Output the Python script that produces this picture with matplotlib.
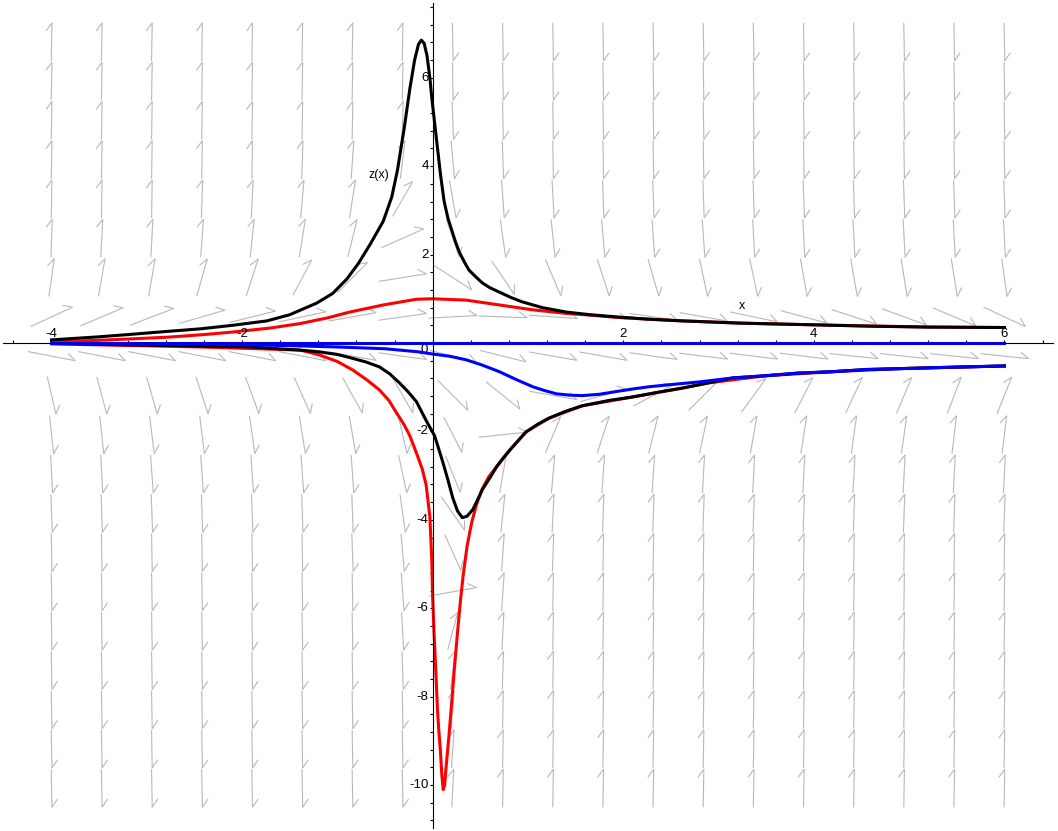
import numpy as np
import matplotlib
matplotlib.use('Agg')
import matplotlib.pyplot as plt
from matplotlib.collections import LineCollection

plt.rcParams['font.family'] = ['Liberation Sans', 'DejaVu Sans']

# direction field grid (20 x 20), centres of the arrows
field_x = np.linspace(-4, 6, 20)
field_z = np.linspace(6.81, -10.07, 20)

# arrow direction on screen, degrees (+ = up-right), rows from top to bottom
field_angle = [
    [89, 89, 89, 89, 89, 89, 89, 89, -89, -89, -89, -89, -89, -89, -89, -89, -89, -89, -89, -89],
    [89, 89, 89, 89, 89, 89, 89, 89, -89, -89, -89, -89, -89, -89, -89, -89, -89, -89, -89, -89],
    [89, 89, 89, 89, 89, 89, 89, 88, -88, -89, -89, -89, -89, -89, -89, -89, -89, -89, -89, -89],
    [89, 89, 89, 89, 89, 88, 86, 83, -85, -88, -89, -89, -89, -89, -89, -89, -89, -89, -89, -89],
    [89, 89, 89, 88, 87, 85, 81, 60, -80, -86, -87, -88, -88, -88, -88, -88, -88, -88, -88, -88],
    [88, 87, 87, 86, 84, 81, 76, 24, -71, -82, -84, -85, -86, -86, -87, -87, -87, -87, -87, -87],
    [82, 80, 80, 74, 72, 62, 45, 9, -33, -56, -67, -72, -74, -78, -78, -80, -80, -81, -81, -82],
    [25, 23, 21, 16, 14, 12, 10, 8, 3, -2, -4, -6, -8, -10, -12, -15, -18, -20, -23, -25],
    [-11, -11, -11, -11, -11, -11, -10, -8, -14, -14, -10, -10, -8, -7, -7, -7, -6, -6, -6, -6],
    [-77, -75, -74, -72, -70, -66, -61, -60, -45, -39, -10, 15, 28, 45, 54, 63, 65, 67, 69, 68],
    [-84, -84, -83, -83, -82, -81, -80, -77, -63, 6, 67, 72, 76, 78, 80, 81, 82, 82, 83, 83],
    [-87, -87, -86, -86, -86, -86, -86, -78, -68, 80, 85, 86, 86, 87, 87, 87, 87, 87, 87, 87],
    [-88, -88, -88, -88, -88, -88, -88, -82, -55, 84, 87, 88, 88, 88, 88, 88, 88, 88, 88, 88],
    [-89, -89, -89, -89, -89, -89, -88, -85, -66, 86, 88, 89, 89, 89, 89, 89, 89, 89, 89, 89],
    [-89, -89, -89, -89, -89, -89, -89, -86, 10, 86, 89, 89, 89, 89, 89, 89, 89, 89, 89, 89],
    [-89, -89, -89, -89, -89, -89, -89, -87, 75, 87, 89, 89, 89, 89, 89, 89, 89, 89, 89, 89],
    [-89, -89, -89, -89, -89, -89, -89, -88, 83, 88, 89, 89, 89, 89, 89, 89, 89, 89, 89, 89],
    [-89, -89, -89, -89, -89, -89, -89, -89, 85, 89, 89, 89, 89, 89, 89, 89, 89, 89, 89, 89],
    [-89, -89, -89, -89, -89, -89, -89, -89, 86, 89, 89, 89, 89, 89, 89, 89, 89, 89, 89, 89],
    [-89, -89, -89, -89, -89, -89, -89, -89, 87, 89, 89, 89, 89, 89, 89, 89, 89, 89, 89, 89],
]

# solution curves
black_up_x = [-4, -3.5, -3.14, -2.8, -2.44, -2.1, -1.74, -1.5, -1.22, -1.05, -0.9, -0.78,
              -0.66, -0.52, -0.43, -0.37, -0.3, -0.24, -0.19, -0.15, -0.12, -0.09, -0.06,
              -0.03, -0.01, 0.04, 0.08, 0.12, 0.16, 0.2, 0.24, 0.28, 0.33, 0.38, 0.45, 0.52,
              0.6, 0.7, 0.82, 0.94, 1.15, 1.4, 1.65, 1.93, 2.25, 2.62, 3.22, 3.6, 4.02, 4.58,
              5.2, 6]
black_up_z = [0.07, 0.14, 0.2, 0.26, 0.32, 0.4, 0.5, 0.64, 0.9, 1.12, 1.45, 1.8,
              2.22, 2.75, 3.3, 3.91, 4.85, 5.75, 6.4, 6.75, 6.85, 6.78, 6.5,
              6.0, 5.55, 4.6, 3.84, 3.2, 2.82, 2.55, 2.28, 2.05, 1.84, 1.65, 1.5, 1.36,
              1.25, 1.15, 1.03, 0.93, 0.8, 0.7, 0.64, 0.59, 0.54, 0.5, 0.45, 0.43, 0.41, 0.38,
              0.36, 0.35]

red_up_x = [-4, -3.4, -2.79, -2.4, -2.09, -1.7, -1.39, -1.1, -0.87, -0.52, -0.17, 0, 0.35,
            0.7, 1.05, 1.4, 1.65, 1.93, 2.25, 2.62, 3.22, 4.02, 5.2, 6]
red_up_z = [0.02, 0.07, 0.13, 0.19, 0.25, 0.34, 0.44, 0.57, 0.7, 0.86, 0.99, 1.0, 0.97,
            0.86, 0.75, 0.67, 0.63, 0.58, 0.54, 0.5, 0.45, 0.41, 0.36, 0.35]

black_low_x = [-4, -2.97, -1.92, -1.4, -1.19, -1.0, -0.87, -0.7, -0.56, -0.45, -0.35, -0.26,
               -0.17, -0.07, 0.02, 0.1, 0.16, 0.21, 0.26, 0.31, 0.36, 0.42, 0.47, 0.52, 0.6,
               0.67, 0.74, 0.81, 0.9, 0.98, 1.1, 1.22, 1.4, 1.57, 1.85, 2.1, 2.35, 2.62, 2.9,
               3.15, 3.5, 3.84, 4.19, 4.55, 4.9, 5.24, 5.6, 6]
black_low_z = [-0.01, -0.05, -0.09, -0.16, -0.2, -0.26, -0.33, -0.43, -0.54, -0.7, -0.9, -1.1,
               -1.33, -1.75, -2.1, -2.65, -3.1, -3.5, -3.8, -3.95, -3.92, -3.77, -3.55, -3.32,
               -3.05, -2.8, -2.6, -2.42, -2.2, -2.01, -1.84, -1.7, -1.54, -1.42, -1.3, -1.22,
               -1.12, -1.02, -0.9, -0.79, -0.74, -0.68, -0.65, -0.6, -0.58, -0.56, -0.54, -0.52]

red_low_x = [-4, -2.44, -1.39, -1.19, -1.0, -0.84, -0.7, -0.56, -0.46, -0.38, -0.3, -0.24,
             -0.16, -0.11, -0.07, -0.03, -0.01, 0.0, 0.015, 0.03, 0.05, 0.065, 0.08, 0.095,
             0.11, 0.125, 0.14, 0.17, 0.2, 0.23, 0.26, 0.29, 0.32, 0.36, 0.41, 0.46, 0.52,
             0.59, 0.67, 0.81, 0.98, 1.22, 1.57, 2.1, 2.62, 2.9, 3.5, 4.19, 4.9, 6]
red_low_z = [-0.02, -0.09, -0.16, -0.27, -0.42, -0.61, -0.82, -1.06, -1.3, -1.58, -1.85, -2.1,
             -2.55, -2.85, -3.2, -3.93, -4.9, -5.8, -6.6, -7.3, -8.3, -8.8, -9.2, -9.75,
             -10.1, -10.0, -9.6, -8.9, -8.1, -7.3, -6.55, -5.85, -5.25, -4.6, -4.05, -3.65,
             -3.3, -3.02, -2.8, -2.42, -2.01, -1.7, -1.42, -1.22, -1.02, -0.9, -0.74, -0.65,
             -0.58, -0.52]

blue_zero_x = [-4, 6]
blue_zero_z = [0, 0]

blue_low_x = [-4, -3, -2, -1.5, -1, -0.5, -0.35, -0.15, 0, 0.18, 0.35, 0.52, 0.7, 0.88, 1.05,
              1.18, 1.3, 1.44, 1.57, 1.75, 1.92, 2.1, 2.27, 2.55, 2.8, 3.15, 3.5, 3.84, 4.19,
              4.55, 4.9, 5.24, 5.6, 6]
blue_low_z = [-0.01, -0.02, -0.04, -0.06, -0.09, -0.13, -0.16, -0.2, -0.25, -0.3, -0.38,
              -0.5, -0.65, -0.83, -0.99, -1.08, -1.15, -1.18, -1.19, -1.16, -1.1, -1.04,
              -0.99, -0.93, -0.88, -0.79, -0.74, -0.68, -0.65, -0.6, -0.58, -0.56, -0.54,
              -0.52]

x_tick_labels = [-4, -2, 2, 4, 6]
y_tick_labels = [6, 4, 2, -2, -4, -6, -8, -10]

W, H = 1058, 831
fig = plt.figure(figsize=(W / 100, H / 100), dpi=100)
ax = fig.add_axes([3 / W, 3 / H, 1050 / W, 825 / H])
ax.set_xlim(-4.51, 6.51)
ax.set_ylim(-10.97, 7.69)

# axes through the origin
for s in ['top', 'right']:
    ax.spines[s].set_visible(False)
for s in ['left', 'bottom']:
    ax.spines[s].set_position(('data', 0))
    ax.spines[s].set_linewidth(0.8)
    ax.spines[s].set_zorder(5)
ax.set_xticks(np.round(np.arange(-4.4, 6.5, 0.4), 1))
ax.set_yticks(np.round(np.arange(-10.8, 7.7, 0.4), 1))
ax.tick_params(axis='x', direction='in', length=2.5, width=0.8, labelbottom=False)
ax.tick_params(axis='y', direction='out', length=2.5, width=0.8, labelleft=False)
ax.patch.set_visible(False)

for v in x_tick_labels:
    ax.annotate(str(v), (v, 0), xytext=(0, 3), textcoords='offset pixels',
                ha='center', va='bottom', fontsize=9.5)
for v in y_tick_labels:
    ax.annotate(str(v), (0, v), xytext=(-4, 0), textcoords='offset pixels',
                ha='right', va='center', fontsize=9.5)
ax.annotate('0', (0, 0), xytext=(-5, -1), textcoords='offset pixels',
            ha='right', va='top', fontsize=9.5)

# direction field arrows, same size relative to the grid cell
p = ax.transData.transform([[0, 0], [1, 1]])
sx, sz = p[1, 0] - p[0, 0], p[1, 1] - p[0, 1]
cw = field_x[1] - field_x[0]
ch = field_z[0] - field_z[1]
segs = []
for j, zc in enumerate(field_z):
    for i, xc in enumerate(field_x):
        th = np.radians(field_angle[j][i])
        dx, dz = np.cos(th) / sx, np.sin(th) / sz
        k = 0.97 / np.hypot(dx / cw, dz / ch)
        dx, dz = dx * k, dz * k
        tip = (xc + dx / 2, zc + dz / 2)
        segs.append([(xc - dx / 2, zc - dz / 2), tip])
        # one-sided head
        b = th + np.radians(145)
        segs.append([tip, (tip[0] + 10 * np.cos(b) / sx, tip[1] + 10 * np.sin(b) / sz)])
ax.add_collection(LineCollection(segs, colors='#b8b8b8', linewidths=0.8, zorder=1))

lw = 2.2
ax.plot(red_up_x, red_up_z, color='#ff0000', lw=lw, zorder=2)
ax.plot(red_low_x, red_low_z, color='#ff0000', lw=lw, zorder=2)
ax.plot(black_up_x, black_up_z, color='black', lw=lw, zorder=3)
ax.plot(black_low_x, black_low_z, color='black', lw=lw, zorder=3)
ax.plot(blue_low_x, blue_low_z, color='#0000ff', lw=lw, zorder=4)
ax.plot(blue_zero_x, blue_zero_z, color='#0000ff', lw=lw, zorder=4)

ax.text(-0.56, 3.8, 'z(x)', ha='center', va='center', fontsize=9)
ax.text(3.25, 0.83, 'x', ha='center', va='center', fontsize=9)

fig.savefig('out.png', dpi=100)
